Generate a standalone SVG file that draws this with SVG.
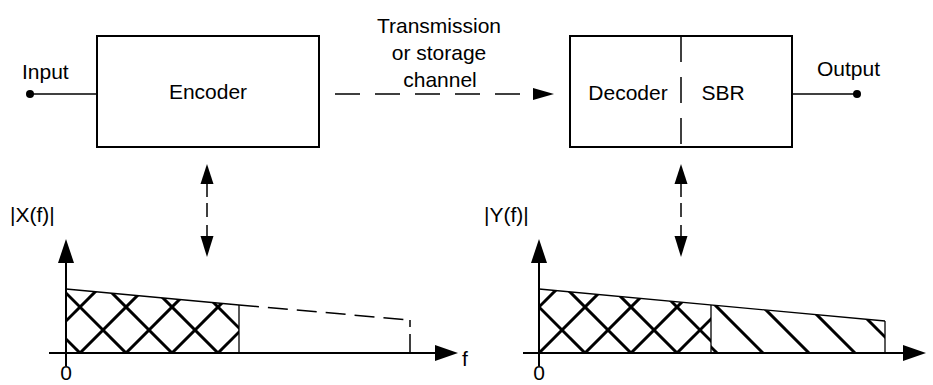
<svg xmlns="http://www.w3.org/2000/svg" width="933" height="385" viewBox="0 0 933 385">
<style>
text{font-family:"Liberation Sans",Arial,sans-serif;font-size:21px;fill:#000}
.box{fill:#fff;stroke:#000;stroke-width:2}
.thin{fill:none;stroke:#000;stroke-width:1.3}
.axis{fill:none;stroke:#000;stroke-width:2}
.hatch{fill:none;stroke:#000;stroke-width:3}
.dash{fill:none;stroke:#000;stroke-width:1.5}
.ah{fill:#000;stroke:none}
</style>
<defs>
<clipPath id="cl1"><polygon points="66,289 239,305 239,353 66,353"/></clipPath>
<clipPath id="cr1"><polygon points="539,289 711,305 711,353 539,353"/></clipPath>
<clipPath id="cr2"><polygon points="711,305 885,321 885,353 711,353"/></clipPath>
</defs>
<rect width="933" height="385" fill="#fff"/>

<g id="input">
<circle cx="30" cy="94" r="4" fill="#000"/>
<text x="22" y="79">Input</text>
</g>
<g id="encoder">
<rect class="box" x="97" y="36" width="222" height="111"/>
<text x="208" y="99" text-anchor="middle">Encoder</text>
</g>
<g id="channel">
<text x="439" y="33" text-anchor="middle">Transmission</text>
<text x="439" y="60" text-anchor="middle">or storage</text>
<text x="440" y="87" text-anchor="middle">channel</text>
</g>
<g id="decoder">
<rect class="box" x="570" y="36" width="222" height="111"/>
<line class="dash" x1="681" y1="36" x2="681" y2="147" stroke-dasharray="26 15"/>
<text x="628" y="100" text-anchor="middle">Decoder</text>
<text x="723" y="100" text-anchor="middle">SBR</text>
</g>
<g id="output">
<circle cx="857" cy="94" r="4" fill="#000"/>
<text x="817" y="76">Output</text>
</g>

<g id="connectors">
<line class="thin" x1="30" y1="94" x2="97" y2="94"/>
<line class="thin" x1="792" y1="94" x2="857" y2="94"/>
<line class="dash" x1="335" y1="94" x2="520" y2="94" stroke-dasharray="25 15"/>
<polygon class="ah" points="533,88 554,94 533,100"/>
<line class="dash" x1="207" y1="184" x2="207" y2="236" stroke-dasharray="13 6 14 8 20"/>
<polygon class="ah" points="207,164 200.5,184 213.5,184"/>
<polygon class="ah" points="207,257 200.5,236 213.5,236"/>
<line class="dash" x1="681" y1="184" x2="681" y2="236" stroke-dasharray="13 6 14 8 20"/>
<polygon class="ah" points="681,164 674.5,184 687.5,184"/>
<polygon class="ah" points="681,257 674.5,236 687.5,236"/>
</g>

<g id="spectrum-x">
<g clip-path="url(#cl1)" class="hatch">
<line x1="-12" y1="353" x2="88" y2="253"/>
<line x1="34" y1="353" x2="134" y2="253"/>
<line x1="80" y1="353" x2="180" y2="253"/>
<line x1="126" y1="353" x2="226" y2="253"/>
<line x1="172" y1="353" x2="272" y2="253"/>
<line x1="218" y1="353" x2="318" y2="253"/>
<line x1="80" y1="353" x2="-20" y2="253"/>
<line x1="126" y1="353" x2="26" y2="253"/>
<line x1="172" y1="353" x2="72" y2="253"/>
<line x1="218" y1="353" x2="118" y2="253"/>
<line x1="264" y1="353" x2="164" y2="253"/>
<line x1="310" y1="353" x2="210" y2="253"/>
</g>
<line class="thin" x1="66" y1="289" x2="239" y2="305"/>
<line class="thin" x1="239" y1="305" x2="239" y2="353"/>
<line class="dash" x1="239" y1="305" x2="410" y2="320" stroke-dasharray="20 9"/>
<line class="dash" x1="410" y1="320" x2="410" y2="353" stroke-dasharray="7 7 20"/>
<line class="axis" x1="49" y1="353" x2="437" y2="353"/>
<polygon class="ah" points="458,353 435,345 435,361"/>
<line class="axis" x1="66" y1="366" x2="66" y2="262"/>
<polygon class="ah" points="66,239 58,263 74,263"/>
<text x="10" y="222">|X(f)|</text>
<text x="462" y="366">f</text>
<text x="66" y="380" text-anchor="middle">0</text>
</g>

<g id="spectrum-y">
<g clip-path="url(#cr1)" class="hatch">
<line x1="493" y1="353" x2="593" y2="253"/>
<line x1="539" y1="353" x2="639" y2="253"/>
<line x1="585" y1="353" x2="685" y2="253"/>
<line x1="631" y1="353" x2="731" y2="253"/>
<line x1="677" y1="353" x2="777" y2="253"/>
<line x1="585" y1="353" x2="485" y2="253"/>
<line x1="631" y1="353" x2="531" y2="253"/>
<line x1="677" y1="353" x2="577" y2="253"/>
<line x1="723" y1="353" x2="623" y2="253"/>
<line x1="769" y1="353" x2="669" y2="253"/>
</g>
<g clip-path="url(#cr2)" class="hatch">
<line x1="717" y1="353" x2="617" y2="253"/>
<line x1="763" y1="353" x2="663" y2="253"/>
<line x1="809" y1="353" x2="709" y2="253"/>
<line x1="855" y1="353" x2="755" y2="253"/>
<line x1="901" y1="353" x2="801" y2="253"/>
</g>
<line class="thin" x1="539" y1="289" x2="885" y2="321"/>
<line class="thin" x1="711" y1="305" x2="711" y2="353"/>
<line class="thin" x1="885" y1="321" x2="885" y2="353"/>
<line class="axis" x1="523" y1="353" x2="905" y2="353"/>
<polygon class="ah" points="926,353 903,345 903,361"/>
<line class="axis" x1="539" y1="366" x2="539" y2="262"/>
<polygon class="ah" points="539,239 531,263 547,263"/>
<text x="484" y="222">|Y(f)|</text>
<text x="539" y="380" text-anchor="middle">0</text>
</g>
</svg>
